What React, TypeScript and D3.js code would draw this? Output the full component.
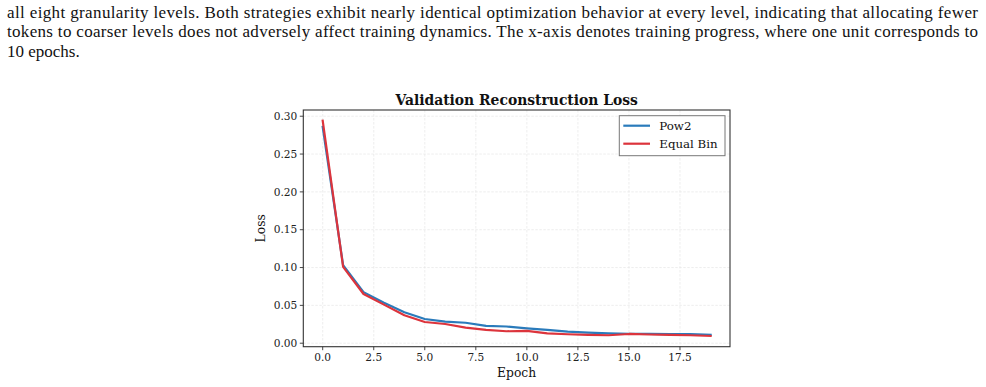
import * as d3 from "d3";

// x = training progress (1 unit = 10 epochs)
const EPOCHS = [0, 1, 2, 3, 4, 5, 6, 7, 8, 9, 10, 11, 12, 13, 14, 15, 16, 17, 18, 19];

const POW2 = [
  0.286, 0.103, 0.0675, 0.0535, 0.041, 0.032, 0.0285, 0.027, 0.0228, 0.0221,
  0.0197, 0.0175, 0.0153, 0.014, 0.0131, 0.0122, 0.0122, 0.0121, 0.012, 0.011,
];

const EQUAL_BIN = [
  0.294, 0.101, 0.065, 0.051, 0.037, 0.028, 0.0254, 0.0205, 0.0175, 0.0158,
  0.0162, 0.013, 0.0118, 0.011, 0.0105, 0.0122, 0.0115, 0.011, 0.0105, 0.0096,
];

const X_TICKS = [0, 2.5, 5, 7.5, 10, 12.5, 15, 17.5];
const Y_TICKS = [0, 0.05, 0.1, 0.15, 0.2, 0.25, 0.3];

const SERIES = [
  { name: "Pow2", values: POW2, color: "#2a7bbb" },
  { name: "Equal Bin", values: EQUAL_BIN, color: "#dc343c" },
];

const CAPTION = [
  "all eight granularity levels. Both strategies exhibit nearly identical optimization behavior at every level, indicating that allocating fewer",
  "tokens to coarser levels does not adversely affect training dynamics. The x-axis denotes training progress, where one unit corresponds to",
  "10 epochs.",
];

const W = 986;
const H = 387;
const plot = { left: 303.3, right: 730, top: 110, bottom: 346.7 };
const SERIF = "'DejaVu Serif', serif";

// matplotlib-like 5% margins
function padded(lo: number, hi: number) {
  const p = (hi - lo) * 0.05;
  return [lo - p, hi + p];
}

export default function App() {
  const allY = [...POW2, ...EQUAL_BIN];
  const x = d3
    .scaleLinear()
    .domain(padded(d3.min(EPOCHS)!, d3.max(EPOCHS)!))
    .range([plot.left, plot.right]);
  const y = d3
    .scaleLinear()
    .domain(padded(d3.min(allY)!, d3.max(allY)!))
    .range([plot.bottom, plot.top]);

  const line = d3
    .line<number>()
    .x((_, i) => x(EPOCHS[i]))
    .y((d) => y(d));

  const fmtX = d3.format(".1f");
  const fmtY = d3.format(".2f");
  const cx = (plot.left + plot.right) / 2;
  const cy = (plot.top + plot.bottom) / 2;

  return (
    <svg
      width={W}
      height={H}
      style={{ position: "absolute", left: 0, top: 0, background: "#fff" }}
    >
      {/* caption text above the figure */}
      <g fontFamily="'Liberation Serif', 'Times New Roman', serif" fontSize={17} fill="#111">
        {CAPTION.map((t, i) => (
          <text
            key={i}
            x={7}
            y={18 + i * 19.3}
            textLength={i < 2 ? 971 : undefined}
            lengthAdjust={i < 2 ? "spacing" : undefined}
          >
            {t}
          </text>
        ))}
      </g>

      {/* grid */}
      <g stroke="#d8d8d8" strokeWidth={0.6} strokeDasharray="2.5 1.5" opacity={0.7}>
        {X_TICKS.map((t) => (
          <line key={"gx" + t} x1={x(t)} x2={x(t)} y1={plot.top} y2={plot.bottom} />
        ))}
        {Y_TICKS.map((t) => (
          <line key={"gy" + t} x1={plot.left} x2={plot.right} y1={y(t)} y2={y(t)} />
        ))}
      </g>

      {/* series */}
      {SERIES.map((s) => (
        <path
          key={s.name}
          d={line(s.values) ?? ""}
          fill="none"
          stroke={s.color}
          strokeWidth={2.2}
          strokeLinejoin="round"
          strokeLinecap="square"
        />
      ))}

      {/* spines */}
      <rect
        x={plot.left}
        y={plot.top}
        width={plot.right - plot.left}
        height={plot.bottom - plot.top}
        fill="none"
        stroke="#333"
        strokeWidth={1.1}
      />

      {/* x axis */}
      <g fontFamily={SERIF} fontSize={10.6} fill="#222" textAnchor="middle">
        {X_TICKS.map((t) => (
          <g key={"xt" + t}>
            <line x1={x(t)} x2={x(t)} y1={plot.bottom} y2={plot.bottom + 3.5} stroke="#333" strokeWidth={0.9} />
            <text x={x(t)} y={plot.bottom + 14}>{fmtX(t)}</text>
          </g>
        ))}
      </g>
      <text x={cx} y={376.5} fontFamily={SERIF} fontSize={12.3} textAnchor="middle" fill="#111">
        Epoch
      </text>

      {/* y axis */}
      <g fontFamily={SERIF} fontSize={10.6} fill="#222" textAnchor="end">
        {Y_TICKS.map((t) => (
          <g key={"yt" + t}>
            <line x1={plot.left - 3.5} x2={plot.left} y1={y(t)} y2={y(t)} stroke="#333" strokeWidth={0.9} />
            <text x={plot.left - 6} y={y(t)} dy="0.35em">{fmtY(t)}</text>
          </g>
        ))}
      </g>
      <text
        transform={`translate(264.5,${cy}) rotate(-90)`}
        fontFamily={SERIF}
        fontSize={12.3}
        textAnchor="middle"
        fill="#111"
      >
        Loss
      </text>

      {/* title */}
      <text x={cx} y={105} fontFamily={SERIF} fontSize={13.9} fontWeight="bold" textAnchor="middle" fill="#111">
        Validation Reconstruction Loss
      </text>

      {/* legend */}
      <g>
        <rect x={619.3} y={115.7} width={105.7} height={40} fill="#fff" stroke="#777" strokeWidth={1} />
        {SERIES.map((s, i) => (
          <g key={"lg" + s.name} transform={`translate(623.3,${125.7 + i * 18})`}>
            <line x1={0} x2={26.7} y1={0} y2={0} stroke={s.color} strokeWidth={2.2} />
            <text x={36} y={0} dy="0.35em" fontFamily={SERIF} fontSize={11.8} fill="#111">
              {s.name}
            </text>
          </g>
        ))}
      </g>
    </svg>
  );
}
